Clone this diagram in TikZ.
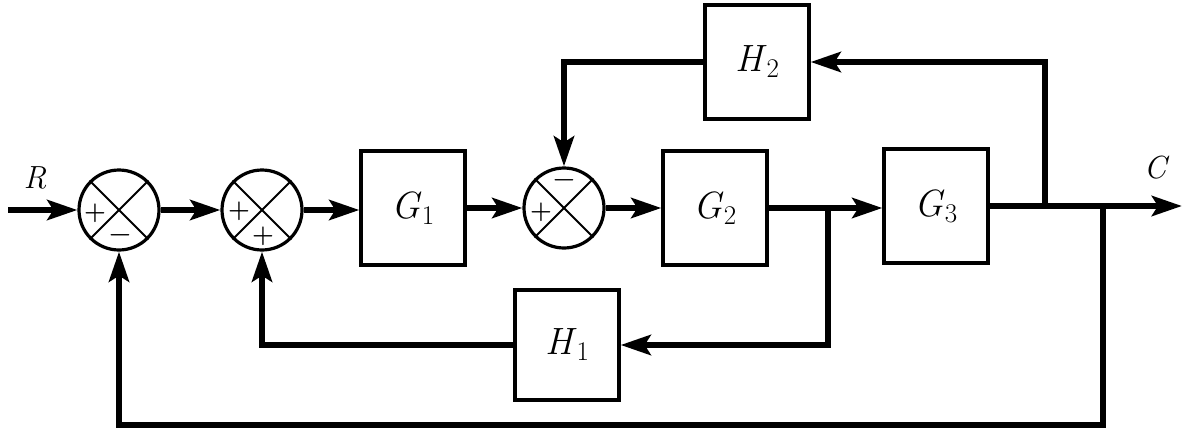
\documentclass[tikz,border=0pt]{standalone}
\usepackage{fontspec}
\usetikzlibrary{arrows.meta,calc}
\newcommand{\blkname}[2]{\fontsize{38}{40}\selectfont\textit{#1}\raisebox{-6pt}{\fontsize{27}{28}\selectfont #2}}
\begin{document}
\begin{tikzpicture}[x=1pt,y=-1pt,
  blk/.style={draw,line width=3.2pt,minimum width=104pt,minimum height=114pt,inner sep=0pt},
  sumj/.style={draw,circle,line width=3.2pt,minimum size=80pt,inner sep=0pt},
  sig/.style={line width=6.5pt,-{Stealth[length=30pt,width=20pt,inset=6pt]}},
  sgn/.style={font=\fontsize{25}{25}\selectfont\bfseries,inner sep=0pt},
  lbl/.style={font=\fontsize{32}{34}\selectfont\itshape}]
\useasboundingbox (0,0) rectangle (1183,434);
% summing junctions
\node[sumj] (s1) at (119,210) {};
\node[sumj] (s2) at (262,210) {};
\node[sumj] (s3) at (564,208) {};
\foreach \s in {s1,s2,s3}{
  \draw[line width=1.8pt] (\s.north west) -- (\s.south east);
  \draw[line width=1.8pt] (\s.north east) -- (\s.south west);
}
\node[sgn] (p1) at (95,213) {+};
\node[sgn] (m1) at (120,238) {\textminus};
\node[sgn] (p2) at (239,211) {+};
\node[sgn] (p2b) at (263,236) {+};
\node[sgn] (p3) at (541,212) {+};
\node[sgn] (m3) at (564,183) {\textminus};
% blocks
\node[blk] (g1) at (413,208) {\blkname{G}{1}};
\node[blk] (g2) at (715,208) {\blkname{G}{2}};
\node[blk] (g3) at (936,206) {\blkname{G}{3}};
\node[blk] (h2) at (757,62) {\blkname{H}{2}};
\node[blk,minimum height=110pt] (h1) at (567,345) {\blkname{H}{1}};
% labels
\node[lbl] (R) at (35,178) {R};
\node[lbl] (C) at (1155,168) {C};
% coordinates
\coordinate (in) at (8,210);
\coordinate (out) at (1182,206);
\coordinate (b1) at (828,208);
\coordinate (b2) at (1045,206);
\coordinate (b3) at (1103,206);
\coordinate (bl) at (1103,425);
% forward path
\draw[sig] (in) -- (s1.west);
\draw[sig] (s1.east) -- (s2.west);
\draw[sig] (s2.east) -- (s2.east -| g1.west);
\draw[sig] (g1.east) -- (g1.east -| s3.west);
\draw[sig] (s3.east) -- (g2.west);
\draw[sig] (g2.east) -- (g2.east -| g3.west);
\draw[sig] (g3.east) -- (out);
% feedback paths
\draw[sig] (b1) |- (h1.east);
\draw[sig] (h1.west) -| (s2.south);
\draw[sig] (b2) |- (h2.east);
\draw[sig] (h2.west) -| (s3.north);
\draw[sig] (b3) -- (bl) -| (s1.south);
\end{tikzpicture}
\end{document}
